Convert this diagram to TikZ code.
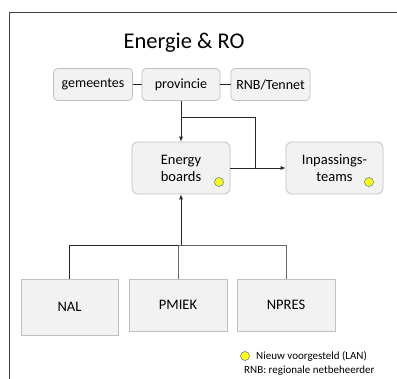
\documentclass[tikz,border=0pt]{standalone}
\usepackage{fontspec}
\setmainfont{Carlito}
\usetikzlibrary{arrows.meta}
\definecolor{boxfill}{HTML}{F2F2F2}
\definecolor{boxline}{HTML}{BFBFBF}
\definecolor{newdot}{HTML}{FFFF00}
\definecolor{dotline}{HTML}{4472C4}
\begin{document}
\begin{tikzpicture}[x=1pt,y=-1pt,
  topbox/.style={draw=boxline,fill=boxfill,rounded corners=4pt,line width=0.7pt,
    minimum width=79pt,minimum height=32pt,inner sep=0pt,font=\fontsize{14}{16}\selectfont},
  midbox/.style={draw=boxline,fill=boxfill,rounded corners=6pt,line width=0.7pt,
    minimum width=98pt,minimum height=52pt,inner sep=0pt,align=center,
    font=\fontsize{14.5}{17}\selectfont},
  lowbox/.style={draw=boxline,fill=boxfill,line width=0.7pt,
    minimum width=98pt,minimum height=52pt,inner sep=0pt,font=\fontsize{14.5}{17}\selectfont},
  link/.style={draw=black!85,line width=0.8pt},
  tip/.style={-{Latex[length=5pt,width=4pt]}},
  dot/.style={draw=dotline,fill=newdot,line width=0.5pt}]
  \useasboundingbox (0,0) rectangle (397,379);
  % frame
  \draw[black!75,line width=0.8pt] (9,379) -- (9,12) -- (397,12);
  \node (title) at (184,43) {\fontsize{22.5}{26}\selectfont Energie \& RO};
  % top row
  \node[topbox] (gem) at (93,84.5) {gemeentes};
  \node[topbox,minimum width=78pt] (prov) at (181,84.5) {provincie};
  \node[topbox] (rnb) at (270.5,84.5) {RNB/Tennet};
  \draw[link] (gem) -- (prov);
  \draw[link] (prov) -- (rnb);
  % middle row
  \node[midbox] (eb) at (181,168) {Energy\\boards};
  \node[midbox,minimum width=97pt] (ipt) at (334.5,168) {Inpassings-\\teams};
  \fill[dot] (219,182) circle[radius=4.5];
  \fill[dot] (369,182) circle[radius=4.5];
  \coordinate (split) at (181,117);
  \coordinate (bend) at (255,117);
  \draw[link,tip] (prov.south) -- (eb.north);
  \draw[link,tip] (eb.east) -- (ipt.west);
  \draw[link] (split) -- (bend) -- (bend |- ipt.west);
  % bottom row
  \node[lowbox,minimum width=97pt,minimum height=56pt] (nal) at (69.5,307) {NAL};
  \node[lowbox] (pmiek) at (178,305) {PMIEK};
  \node[lowbox] (npres) at (286,305) {NPRES};
  \coordinate (join) at (181,245);
  \draw[link] (nal.north) |- (join);
  \draw[link,black!60] (pmiek.north) |- (join);
  \draw[link,black!60] (npres.north) |- (join);
  \draw[link,tip] (join) -- (eb.south);
  % legend
  \fill[dot] (245,356) circle[radius=4.5];
  \node[anchor=west,inner sep=0pt,font=\fontsize{11}{13}\selectfont] (leg) at (256,356) {Nieuw voorgesteld (LAN)};
  \node[anchor=west,inner sep=0pt,font=\fontsize{11}{13}\selectfont] (abbr) at (244,371) {RNB: regionale netbeheerder};
\end{tikzpicture}
\end{document}
